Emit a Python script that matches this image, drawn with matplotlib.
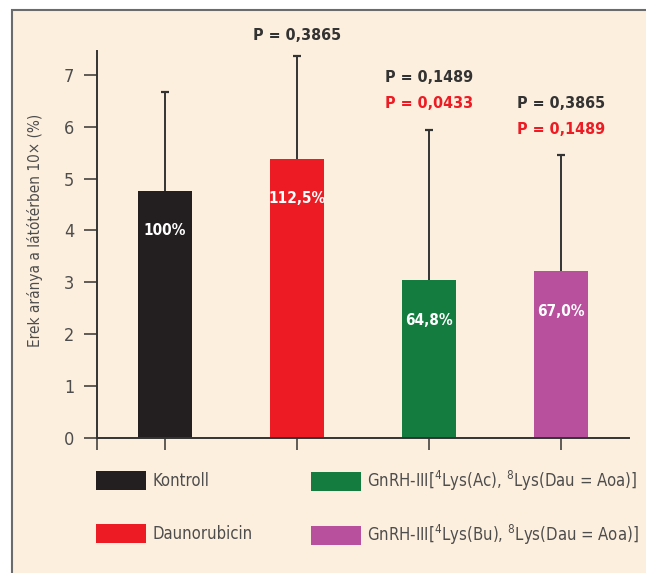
import numpy as np
import matplotlib
matplotlib.use("Agg")
import matplotlib.pyplot as plt
from matplotlib.patches import Patch, Rectangle

# Daten
groups = ["Kontroll", "Daunorubicin",
          r"GnRH-III[$^{4}$Lys(Ac), $^{8}$Lys(Dau = Aoa)]",
          r"GnRH-III[$^{4}$Lys(Bu), $^{8}$Lys(Dau = Aoa)]"]
values = np.array([4.76, 5.38, 3.04, 3.21])
err_up = np.array([1.91, 1.99, 2.90, 2.24])
pct_labels = ["100%", "112,5%", "64,8%", "67,0%"]
p_black = [None, "P = 0,3865", "P = 0,1489", "P = 0,3865"]
p_red = [None, None, "P = 0,0433", "P = 0,1489"]
yticks = [0, 1, 2, 3, 4, 5, 6, 7]

colors = ["#231f20", "#ed1c24", "#157c3f", "#b8509e"]
bg = "#fdefde"
dark = "#333333"
txtgray = "#4d4d4d"

plt.rcParams["font.family"] = "DejaVu Sans"
plt.rcParams["font.stretch"] = "condensed"
plt.rcParams["mathtext.fontset"] = "dejavusans"

fig = plt.figure(figsize=(6.46, 5.73), dpi=100)
fig.patch.set_facecolor("white")
# Hintergrund mit Rahmen (nur oben/links sichtbar)
fig.patches.append(Rectangle((12/646, -0.05), 1.0, 1 - 10/573 + 0.05, transform=fig.transFigure,
                             facecolor=bg, edgecolor="#6b6b6b", linewidth=1.5, zorder=-5))

ax = fig.add_axes([97/646, 1 - 437.7/573, (629 - 97)/646, (437.7 - 51)/573])
ax.set_facecolor("none")
ax.set_zorder(2)

x = np.arange(len(values))
ax.bar(x, values, width=0.41, color=colors, zorder=2)
ax.vlines(x, values, values + err_up, color=dark, linewidth=1.4, zorder=3)
ax.plot(x, values + err_up, linestyle="none", marker="_", markersize=6,
        markeredgewidth=1.6, color=dark, zorder=3)

ax.set_xlim(-0.515, 3.515)
ax.set_ylim(0, 7.46)

for s in ["top", "right"]:
    ax.spines[s].set_visible(False)
for s in ["left", "bottom"]:
    ax.spines[s].set_linewidth(1.4)
    ax.spines[s].set_color(dark)

ax.set_yticks(yticks)
ax.set_xticks([-0.515] + list(x))
ax.set_xticklabels([])
ax.tick_params(axis="y", length=9.5, width=1.1, color=dark, pad=7,
               labelsize=13, labelcolor=txtgray)
ax.tick_params(axis="x", length=8.5, width=1.1, color=dark)
ax.set_ylabel("Erek aránya a látótérben 10× (%)", fontsize=11, color=txtgray)
ax.yaxis.set_label_coords(-0.1015, 0.535)

# Prozent in den Balken
for i, lab in enumerate(pct_labels):
    ax.annotate(lab, (x[i], values[i]), xytext=(0, -40), textcoords="offset pixels",
                ha="center", va="center", color="white", fontsize=11, fontweight="bold")

# P-Werte
for i in range(len(values)):
    top = values[i] + err_up[i]
    if p_red[i] is not None:
        ax.annotate(p_red[i], (x[i], top), xytext=(0, 26), textcoords="offset pixels",
                    ha="center", va="center", color="#ed1c24", fontsize=11.5,
                    fontweight="bold", annotation_clip=False)
        off = 52
    else:
        off = 20
    if p_black[i] is not None:
        ax.annotate(p_black[i], (x[i], top), xytext=(0, off), textcoords="offset pixels",
                    ha="center", va="center", color=dark, fontsize=11.5,
                    fontweight="bold", annotation_clip=False)

# Legende
fs = 12
fpx = fs * 100 / 72
for cols, anchor_x, anchor_y, lsp in [([0, 1], 96/646, 471, 34), ([2, 3], 311/646, 469, 30)]:
    handles = [Patch(facecolor=colors[c], edgecolor="none", label=groups[c]) for c in cols]
    fig.legend(handles=handles, loc="upper left", bbox_to_anchor=(anchor_x, 1 - anchor_y/573),
               frameon=False, fontsize=fs, labelcolor=txtgray,
               handlelength=50/fpx, handleheight=23/fpx, handletextpad=6/fpx,
               labelspacing=lsp/fpx, borderpad=0, borderaxespad=0)

fig.savefig("out.png", dpi=100, facecolor=fig.get_facecolor())
